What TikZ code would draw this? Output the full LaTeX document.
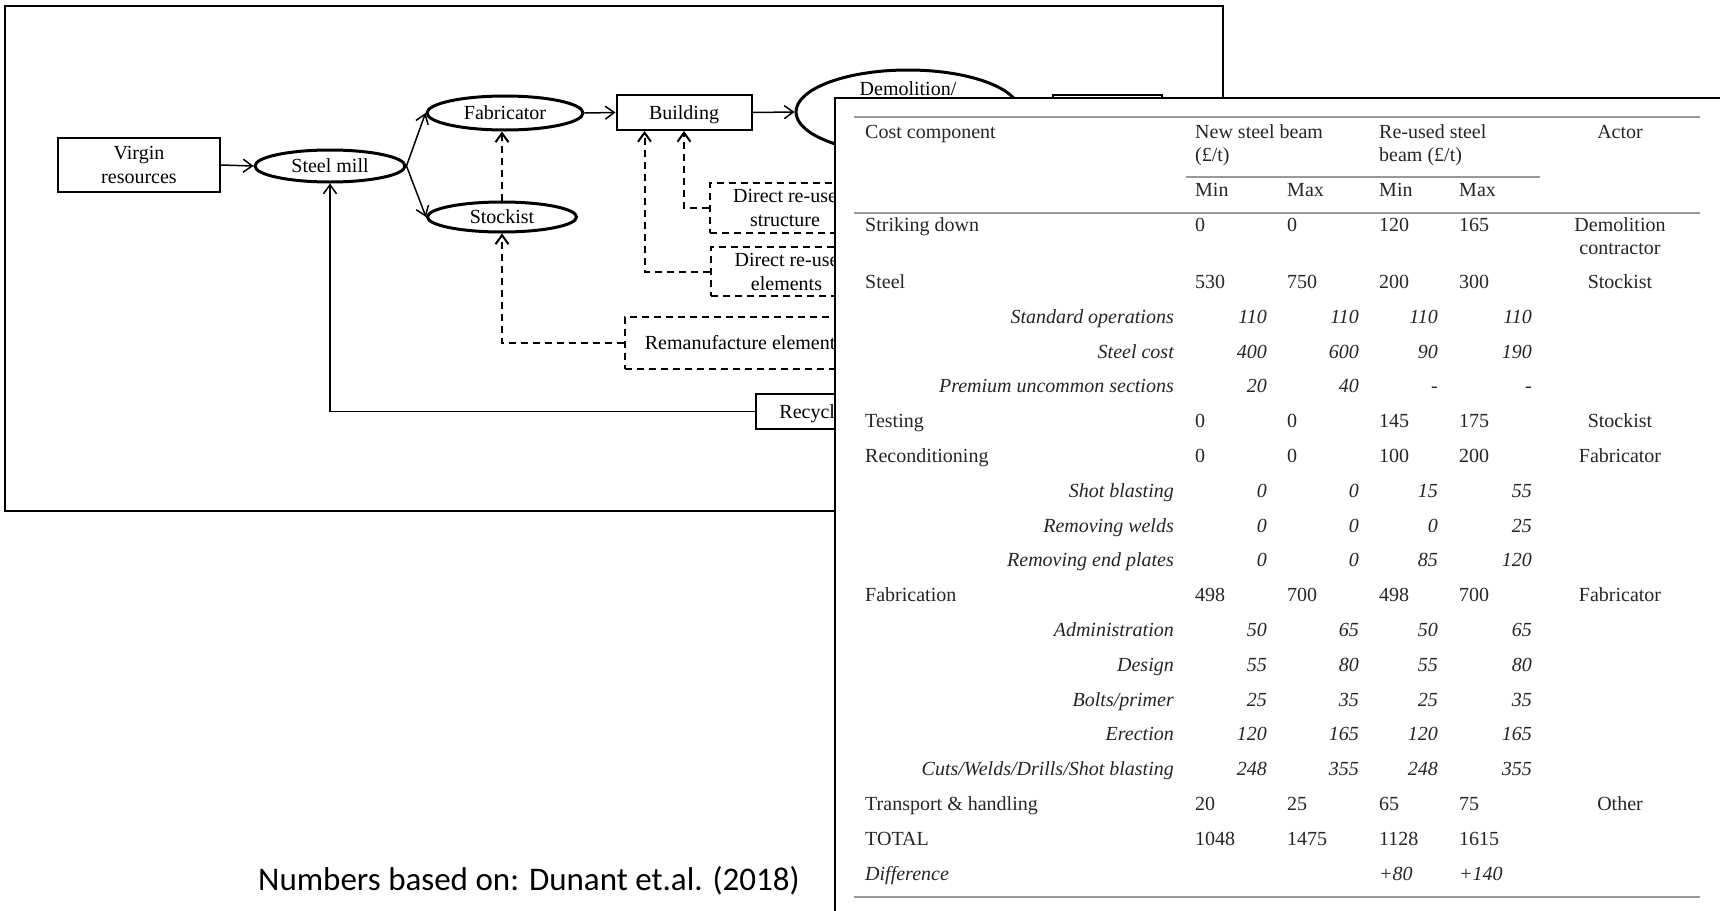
\documentclass[tikz,border=0pt]{standalone}
\usepackage{fontspec}
\setmainfont{Liberation Serif}
\newfontfamily\notefont{Carlito}
\usetikzlibrary{shapes.geometric,positioning,arrows.meta}

\begin{document}
\begin{tikzpicture}[x=1pt, y=-1pt, font=\fontsize{20}{24}\selectfont,
    box/.style={draw, line width=2pt, minimum height=35pt, inner sep=0pt, align=center},
    oval/.style={draw, ellipse, line width=3pt, inner sep=0pt},
    dbox/.style={draw, line width=2pt, dash pattern=on 7pt off 5pt, inner sep=0pt, align=center},
    arr/.style={line width=1.5pt, -{Straight Barb[length=9pt,width=13pt]}},
    darr/.style={arr, line width=2pt, dash pattern=on 7pt off 5pt},
    cell/.style={inner sep=0pt, text=black!85, text height=13pt, text depth=0pt, font=\fontsize{20}{23}\selectfont},
    icell/.style={cell, font=\fontsize{20}{23}\selectfont\itshape},
    rule/.style={black!40, line width=2.5pt}]
        \useasboundingbox (0,0) rectangle (1720,910);
        \draw[line width=2pt] (5,5.5) rectangle (1222.5,510.5);
        \node[box, minimum width=162pt, minimum height=54pt] (virgin) at (139,165) {Virgin\\resources};
        \node[oval, minimum width=150pt, minimum height=32pt] (mill) at (330,166) {Steel mill};
        \node[oval, minimum width=156pt, minimum height=34pt] (fab) at (505,113) {Fabricator};
        \node[oval, minimum width=149pt, minimum height=30pt] (stock) at (502,217) {Stockist};
        \node[box, minimum width=135pt, text height=14pt, text depth=0pt] (building) at (684,112.5) {Building};
        \node[oval, minimum width=224pt, minimum height=84pt] (demol) at (908,112) {};
        \node[inner sep=0pt, below=13pt of demol.north] (demoltxt) {Demolition/};
        \node[box, minimum width=109pt] (store) at (1107.5,112.5) {};
        \node[dbox, minimum width=150pt, minimum height=50pt] (structure) at (785,208) {Direct re-use\\structure};
        \node[dbox, minimum width=151pt, minimum height=49pt] (elements) at (786.5,271.5) {Direct re-use\\elements};
        \node[dbox, minimum width=238pt, minimum height=52pt] (reman) at (744,343) {Remanufacture elements};
        \node[box, minimum width=128pt, text height=14pt, text depth=0pt] (recyc) at (820,411.5) {Recycling};
        \draw[arr] (virgin.east) -- (mill.west);
        \draw[arr] (mill.east) -- (fab.west);
        \draw[arr] (mill.east) -- (stock.west);
        \draw[arr] (fab.east) -- (building.west);
        \draw[arr] (building.east) -- (demol.west);
        \draw[darr] (stock.north) -- (stock.north |- fab.south);
        \draw[darr] (structure.west) -| (building.south);
        \draw[darr] (elements.west) -| ([xshift=-39.5pt]building.south);
        \draw[darr] (reman.west) -| (stock.south);
        \draw[arr] (recyc.west) -| (mill.south);
        \node[font=\notefont\fontsize{33}{40}\selectfont, anchor=west, inner sep=0pt, text height=21pt, text depth=0pt] (note) at (258,880) {Numbers based on: Dunant et.al. (2018)};
        % cost table
        \draw[fill=white, line width=1.8pt] (835,98) rectangle (1730,920);
        \draw[rule] (854,117) -- (1700,117);
        \draw[rule] (1186,177) -- (1540,177);
        \draw[rule] (854,213) -- (1700,213);
        \draw[rule] (854,897) -- (1700,897);
        \node[cell, anchor=west] (hcost) at (865,132) {Cost component};
        \node[cell, anchor=west] (hnew) at (1195,132) {New steel beam};
        \node[cell, anchor=west] (hnewunit) at (1195,155) {(£/t)};
        \node[cell, anchor=west] (hreuse) at (1379,132) {Re-used steel};
        \node[cell, anchor=west] (hreuseunit) at (1379,155) {beam (£/t)};
        \node[cell] (hactor) at (1620,132) {Actor};
        \foreach \x/\t [count=\k] in {1195/Min,1287/Max,1379/Min,1459/Max}
            \node[cell, anchor=west] (hm\k) at (\x,190) {\t};
        \node[cell, anchor=west] (lstrike) at (865,225) {Striking down};
        \foreach \x/\v [count=\k] in {1195/0,1287/0,1379/120,1459/165}
            \node[cell, anchor=west] (strike\k) at (\x,225) {\v};
        \node[inner sep=0pt, text=black!85, font=\fontsize{20}{23}\selectfont, align=center] (astrike) at (1620,236) {Demolition\\contractor};
        \foreach \lab/\a/\b/\c/\d/\act/\r in {Steel/530/750/200/300/Stockist/0, Testing/0/0/145/175/Stockist/4,
                Reconditioning/0/0/100/200/Fabricator/5, Fabrication/498/700/498/700/Fabricator/9,
                {Transport \& handling}/20/25/65/75/Other/15, TOTAL/1048/1475/1128/1615/{}/16} {
            \node[cell, anchor=west] (lab\r) at (865,{282+34.8*\r}) {\lab};
            \node[cell, anchor=west] (newmin\r) at (1195,{282+34.8*\r}) {\a};
            \node[cell, anchor=west] (newmax\r) at (1287,{282+34.8*\r}) {\b};
            \node[cell, anchor=west] (oldmin\r) at (1379,{282+34.8*\r}) {\c};
            \node[cell, anchor=west] (oldmax\r) at (1459,{282+34.8*\r}) {\d};
            \node[cell] (actor\r) at (1620,{282+34.8*\r}) {\act};
        }
        \foreach \lab/\a/\b/\c/\d/\r in {{Standard operations}/110/110/110/110/1, {Steel cost}/400/600/90/190/2,
                {Premium uncommon sections}/20/40/-/-/3, {Shot blasting}/0/0/15/55/6, {Removing welds}/0/0/0/25/7,
                {Removing end plates}/0/0/85/120/8, Administration/50/65/50/65/10, Design/55/80/55/80/11,
                {Bolts/primer}/25/35/25/35/12, Erection/120/165/120/165/13,
                {Cuts/Welds/Drills/Shot blasting}/248/355/248/355/14} {
            \node[icell, anchor=east] (lab\r) at (1174,{282+34.8*\r}) {\lab};
            \node[icell, anchor=east] (newmin\r) at (1267,{282+34.8*\r}) {\a};
            \node[icell, anchor=east] (newmax\r) at (1359,{282+34.8*\r}) {\b};
            \node[icell, anchor=east] (oldmin\r) at (1438,{282+34.8*\r}) {\c};
            \node[icell, anchor=east] (oldmax\r) at (1532,{282+34.8*\r}) {\d};
        }
        \node[icell, anchor=west] (ldiff) at (865,873.5) {Difference};
        \node[icell, anchor=west] (diffmin) at (1379,873.5) {+80};
        \node[icell, anchor=west] (diffmax) at (1459,873.5) {+140};
    \end{tikzpicture}
\end{document}
